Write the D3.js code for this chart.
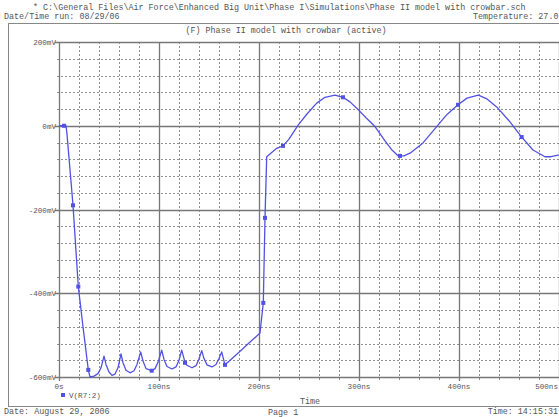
<!DOCTYPE html>
<html>
<head>
<meta charset="utf-8">
<script src="https://cdn.jsdelivr.net/npm/d3@7"></script>
<style>
html,body{margin:0;padding:0;background:#fff;}
svg{display:block;}
text{font-family:"Liberation Mono","DejaVu Sans Mono",monospace;fill:#555;}
</style>
</head>
<body>
<svg id="chart" width="559" height="417"></svg>
<script>
// ---- data (time in ns, voltage in mV) ----
const timeNs = [0,5,7,8,14,19.3,24,29.3,31,35,39,42,45,
  47,50,53,56,59,62,
  64,67,71,75,78,81.7,
  84,87,92.7,96,99,102.7,
  105,108,113,117,120,122.7,
  125,126,128,133,137,140,142.7,
  145,148,153,157,160,162.7,
  165,166,172,180,190,201,204.3,206,207.7,217.7,224,230,239.3,248,257.7,266,276,284,291,297.7,307,316,326,333,339.3,341,345,352,364,377.7,388,399,408,419.3,428,437.7,450,462.7,474,486,492,499,500];
const voltMv = [0,0,0,-20,-190,-384,-480,-583,-600,-598,-592,-578,-550,
  -570,-588,-596,-593,-578,-545,
  -566,-584,-590,-585,-570,-540,
  -562,-580,-585,-580,-565,-536,
  -558,-575,-581,-576,-560,-536,
  -556,-566,-572,-578,-573,-557,-537,
  -556,-571,-576,-570,-556,-540,
  -562,-571,-558,-541,-519,-495,-423,-220,-74,-54,-48,-32,2,28,54,68,73,68,57,42,19,-2,-36,-58,-72,-72,-72,-64,-41,-2,27,50,66,73,64,45,12,-27,-58,-74,-74,-70,-70];
const markerTime = [5,14,19.3,29.3,92.7,126,166,204.3,206,224,284,341,399,462.7];
const markerVolt = [0,-190,-384,-583,-585,-566,-571,-423,-220,-48,68,-72,50,-27];

const xTickValues = [0,100,200,300,400,500];
const xTickLabels = ["0s","100ns","200ns","300ns","400ns","500ns"];
const yTickValues = [200,0,-200,-400,-600];
const yTickLabels = ["200mV","0mV","-200mV","-400mV","-600mV"];
const xMinor = d3.range(20,500,20);
const yMinor = d3.range(-560,200,40);

const headerLine1 = "* C:\\General Files\\Air Force\\Enhanced Big Unit\\Phase I\\Simulations\\Phase II model with crowbar.sch";
const headerDate = "Date/Time run: 08/29/06";
const headerTemp = "Temperature: 27.0";
const plotTitle = "(F) Phase II model with crowbar (active)";
const xTitle = "Time";
const legendLabel = "V(R7:2)";
const footerDate = "Date: August 29, 2006";
const footerPage = "Page 1";
const footerTime = "Time: 14:15:31";

// ---- layout ----
const svg = d3.select("#chart");
const pLeft = 59, pRight = 559, pTop = 42, pBottom = 377;
const x = d3.scaleLinear().domain([0,500]).range([pLeft,pRight]);
const y = d3.scaleLinear().domain([-600,200]).range([pBottom,pTop]);
const gridCol = "#8f8f8f", axisCol = "#777", lineCol = "#5252e2";
const fs = "8.4px";

// outer frame
svg.append("rect").attr("x",8.5).attr("y",23.5).attr("width",570).attr("height",383)
  .attr("fill","none").attr("stroke","#888").attr("stroke-width",1);

// header text
svg.append("text").attr("x",33).attr("y",10).style("font-size",fs).text(headerLine1);
svg.append("text").attr("x",4).attr("y",18.5).style("font-size",fs).text(headerDate);
svg.append("text").attr("x",473).attr("y",19).style("font-size",fs).text(headerTemp);
svg.append("text").attr("x",286).attr("y",33).attr("text-anchor","middle").style("font-size",fs).text(plotTitle);

// minor gridlines (dotted)
const g = svg.append("g");
g.selectAll("line.vx").data(xMinor.filter(v=>v%100!==0)).join("line")
  .attr("x1",d=>Math.round(x(d))+0.5).attr("x2",d=>Math.round(x(d))+0.5)
  .attr("y1",pTop).attr("y2",pBottom+3)
  .attr("stroke",gridCol).attr("stroke-width",1).attr("stroke-dasharray","2,2");
g.selectAll("line.hy").data(yMinor.filter(v=>v%200!==0)).join("line")
  .attr("y1",d=>Math.round(y(d))+0.5).attr("y2",d=>Math.round(y(d))+0.5)
  .attr("x1",pLeft-2).attr("x2",pRight)
  .attr("stroke",gridCol).attr("stroke-width",1).attr("stroke-dasharray","2,2");

// major gridlines (solid)
g.selectAll("line.mx").data(xTickValues.filter(v=>v>0)).join("line")
  .attr("x1",d=>Math.round(x(d))+0.5).attr("x2",d=>Math.round(x(d))+0.5)
  .attr("y1",pTop).attr("y2",pBottom+4)
  .attr("stroke",axisCol).attr("stroke-width",1.3);
g.selectAll("line.my").data(yTickValues).join("line")
  .attr("y1",d=>Math.round(y(d))+0.5).attr("y2",d=>Math.round(y(d))+0.5)
  .attr("x1",pLeft-4).attr("x2",pRight)
  .attr("stroke",axisCol).attr("stroke-width",1.3);
// left axis
g.append("line").attr("x1",pLeft+0.5).attr("x2",pLeft+0.5).attr("y1",pTop).attr("y2",pBottom+4)
  .attr("stroke",axisCol).attr("stroke-width",1.3);

// axis labels
svg.selectAll("text.yl").data(yTickValues).join("text")
  .attr("x",pLeft-3).attr("y",d=>y(d)+3).attr("text-anchor","end").style("font-size","7.6px")
  .text((d,i)=>yTickLabels[i]);
svg.selectAll("text.xl").data(xTickValues).join("text")
  .attr("x",d=>d===500?558:x(d)).attr("y",pBottom+12)
  .attr("text-anchor",d=>d===500?"end":"middle").style("font-size","7.6px")
  .text((d,i)=>xTickLabels[i]);
svg.append("text").attr("x",310).attr("y",404).attr("text-anchor","middle").style("font-size",fs).text(xTitle);

// data line
const line = d3.line().x((d,i)=>x(timeNs[i])).y(d=>y(d));
svg.append("path").datum(voltMv).attr("d",line)
  .attr("fill","none").attr("stroke",lineCol).attr("stroke-width",1.3).attr("stroke-linejoin","round");
svg.selectAll("rect.mk").data(markerTime).join("rect")
  .attr("x",(d)=>x(d)-2).attr("y",(d,i)=>y(markerVolt[i])-2)
  .attr("width",4).attr("height",4).attr("fill",lineCol);

// legend
svg.append("rect").attr("x",61).attr("y",393).attr("width",4).attr("height",4).attr("fill",lineCol);
svg.append("text").attr("x",69).attr("y",398).style("font-size","7.6px").text(legendLabel);

// footer
svg.append("text").attr("x",4).attr("y",414).style("font-size",fs).text(footerDate);
svg.append("text").attr("x",268).attr("y",414.5).style("font-size",fs).text(footerPage);
svg.append("text").attr("x",558).attr("y",414).attr("text-anchor","end").style("font-size",fs).text(footerTime);
</script>
</body>
</html>
